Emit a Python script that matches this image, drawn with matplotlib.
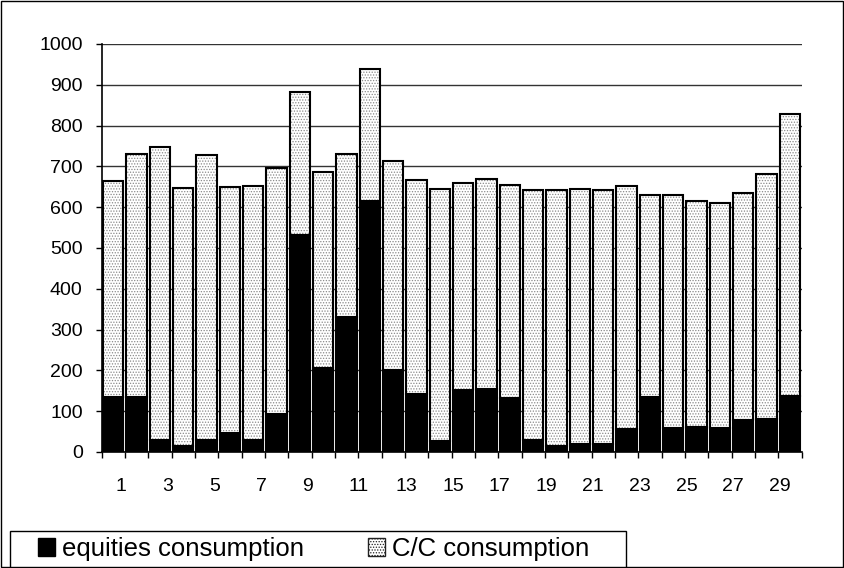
import numpy as np
import matplotlib
matplotlib.use("Agg")
import matplotlib.pyplot as plt
import matplotlib.transforms as mtransforms
from matplotlib.patches import Rectangle, Patch

plt.rcParams["font.family"] = ["Liberation Sans", "DejaVu Sans"]
plt.rcParams["hatch.linewidth"] = 0.6

# Data
periods = np.arange(1, 31)
total = [664, 730, 747, 648, 728, 650, 652, 697, 883, 687,
         730, 938, 713, 666, 645, 660, 669, 655, 643, 643,
         644, 643, 652, 631, 629, 615, 610, 634, 682, 829]
equities = [134, 134, 29, 14, 30, 47, 30, 94, 532, 207,
            330, 616, 200, 141, 27, 151, 155, 133, 30, 15,
            19, 20, 57, 136, 60, 61, 59, 78, 81, 138]
cc = [t - e for t, e in zip(total, equities)]
tick_labels = [str(p) if p % 2 == 1 else "" for p in periods]

fig = plt.figure(figsize=(8.44, 5.68), dpi=100)
ax = fig.add_axes([101.5 / 844, 1 - 452 / 568, 700 / 844, 408 / 568])

# Gridlines behind the bars
ax.set_axisbelow(True)
ax.yaxis.grid(True, color="#333333", linewidth=1)

w = 0.88
ax.bar(periods, equities, width=w, color="black", edgecolor="black", linewidth=1.5)
# dotted C/C part: hatch layer first, then a black outline on top
ax.bar(periods, cc, width=w, bottom=equities, color="white", edgecolor="#8a8a8a",
       hatch="......", linewidth=0)
ax.bar(periods, cc, width=w, bottom=equities, fill=False, edgecolor="black", linewidth=1.5)

ax.set_xlim(0.5, 30.5)
ax.set_ylim(0, 1000)
ax.set_yticks(np.arange(0, 1001, 100))
ax.tick_params(axis="y", labelsize=14, length=4.5, width=1, pad=9, direction="out")

# x labels start near the bar centre, tick marks sit at the category boundaries
ax.set_xticks(periods)
ax.set_xticklabels(tick_labels, ha="left")
ax.tick_params(axis="x", which="major", length=0, pad=19, labelsize=14)
shift = mtransforms.ScaledTranslation(2.5 / 100, 0, fig.dpi_scale_trans)
for lab in ax.get_xticklabels():
    lab.set_transform(lab.get_transform() + shift)
ax.set_xticks(np.arange(0.5, 31, 1), minor=True)
ax.tick_params(axis="x", which="minor", length=4.5, width=1, direction="out")

for side in ["top", "right"]:
    ax.spines[side].set_visible(False)
ax.spines["left"].set_linewidth(1.2)
ax.spines["bottom"].set_linewidth(1.2)

handles = [Patch(facecolor="black", edgecolor="black", label="equities consumption"),
           Patch(facecolor="white", edgecolor="#222222", hatch="......", linewidth=1,
                 label="C/C consumption")]
fig.legend(handles=handles, loc="center left", bbox_to_anchor=(38 / 844, 1 - 549 / 568),
           ncol=2, fontsize=18.5, frameon=False,
           handlelength=0.66, handleheight=0.66, handletextpad=0.27, columnspacing=2.5,
           borderpad=0, borderaxespad=0)
# legend box runs off the bottom of the chart
fig.patches.append(Rectangle((10 / 844, -0.01), 616 / 844, 0.01 + 37.5 / 568,
                             transform=fig.transFigure, fill=False, edgecolor="black",
                             linewidth=1))

# outer chart border
fig.patches.append(Rectangle((0.001, 0.001), 0.998, 0.998, transform=fig.transFigure,
                             fill=False, edgecolor="black", linewidth=1))

plt.savefig("out.png", dpi=100)
